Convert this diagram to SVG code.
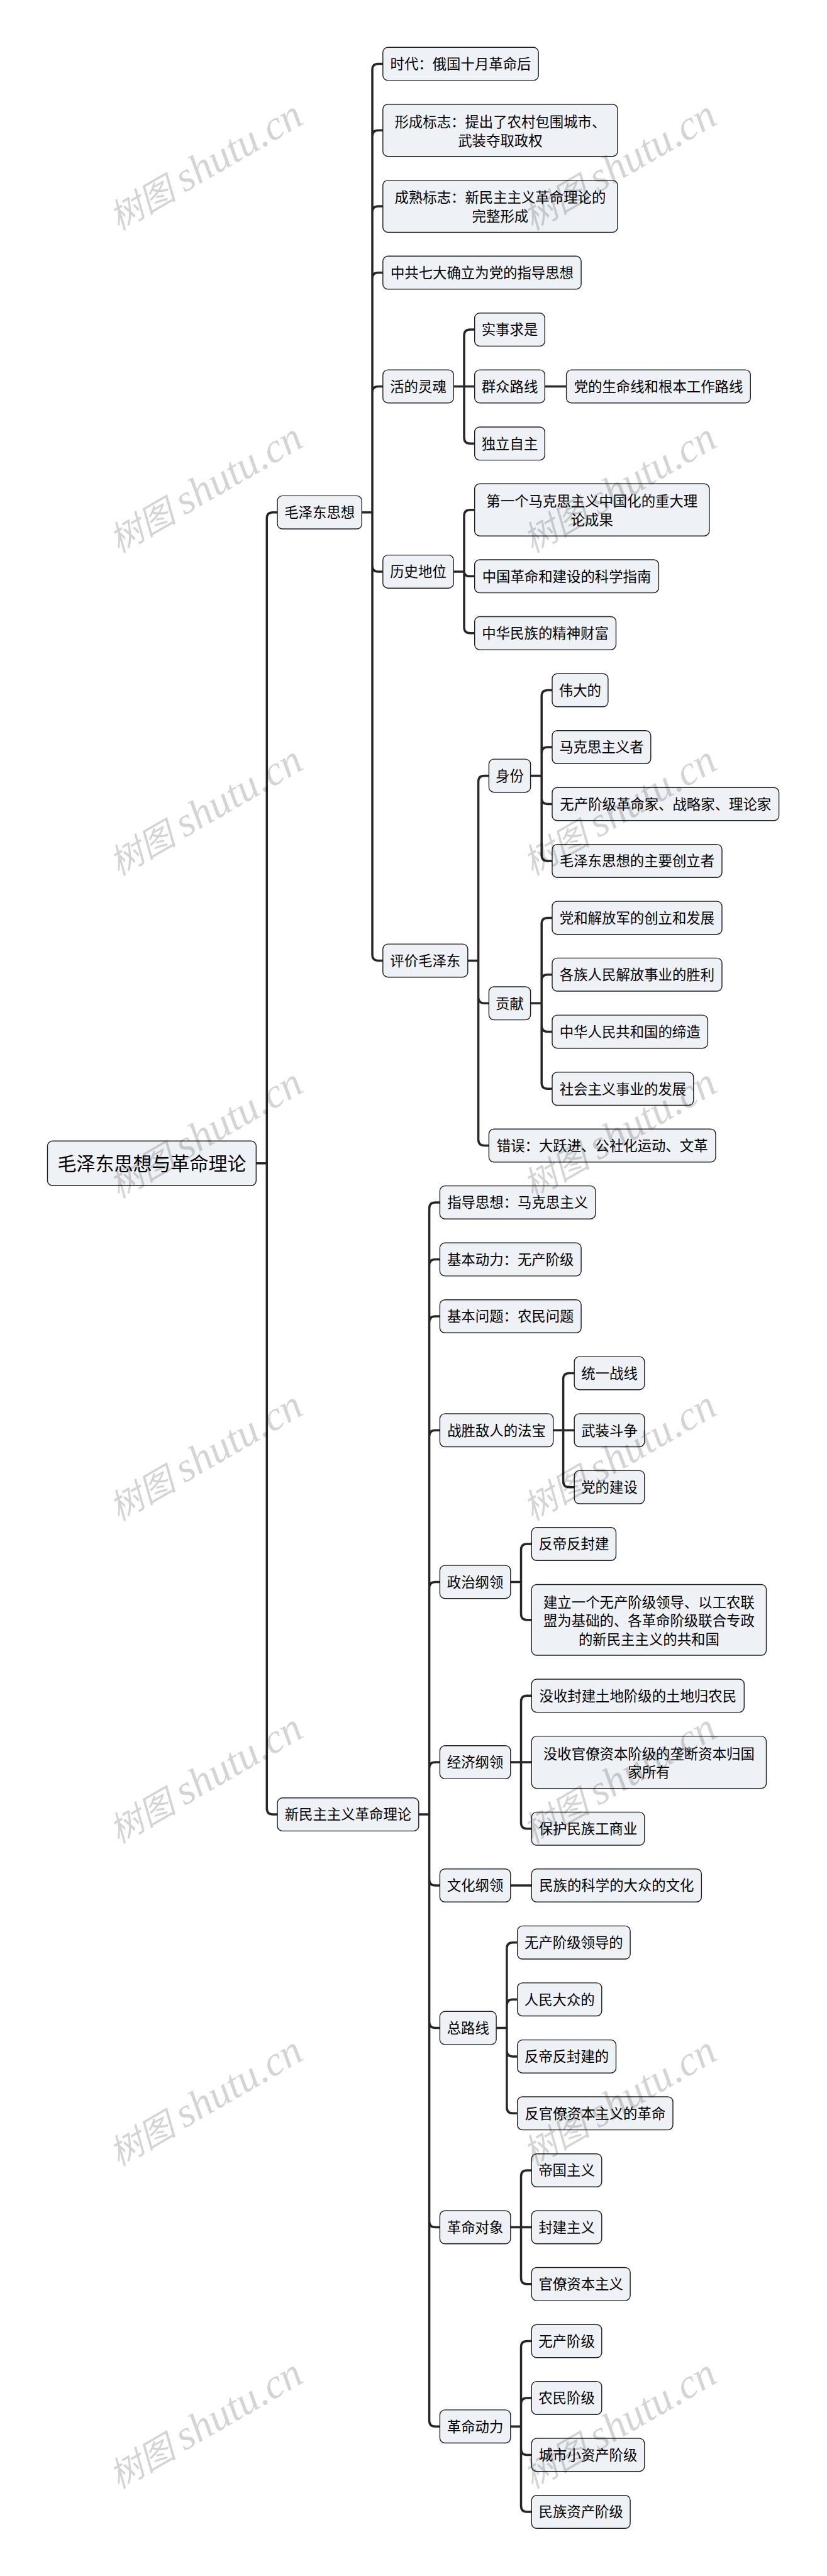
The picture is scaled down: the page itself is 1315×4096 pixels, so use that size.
<svg xmlns="http://www.w3.org/2000/svg" width="1315" height="4096" viewBox="0 0 1315 4096">
<defs>
<style>
.bg{fill:#ffffff}
#connectors path{fill:none;stroke:#262626;stroke-width:3.5}
.node rect{fill:#eef1f5;stroke:#1f1f1f;stroke-width:1.4}
.node text{font-family:"Noto Sans CJK SC","Liberation Sans",sans-serif;font-size:22.4px;fill:#000;text-anchor:middle}
#root text{font-size:30px}
#watermarks text{font-family:"Liberation Serif","Noto Sans CJK SC",serif;font-style:italic;font-size:66px;fill:#000;fill-opacity:.17;text-anchor:middle}
#watermarks tspan{font-size:54px}
</style>
</defs>
<rect class="bg" x="0" y="0" width="1315" height="4096"/>
<g id="connectors">
<path d="M407.3 1849.7H424.3M424.3 1849.7V824.2Q424.3 814.7 433.8 814.7H441.1M424.3 1849.7V2875.6Q424.3 2885.1 433.8 2885.1H441.1"/>
<path d="M575.3 814.7H592M592 814.7V111.1Q592 101.6 601.5 101.6H608.8M592 814.7V216.7Q592 207.2 601.5 207.2H608.8M592 814.7V337.5Q592 328 601.5 328H608.8M592 814.7V443.1Q592 433.6 601.5 433.6H608.8M592 814.7V623.9Q592 614.4 601.5 614.4H608.8M592 814.7V899.4Q592 908.9 601.5 908.9H608.8M592 814.7V1517.9Q592 1527.4 601.5 1527.4H608.8"/>
<path d="M721.2 614.4H754.7M738 614.4V533.6Q738 524.1 747.5 524.1H754.7M738 614.4V695.8Q738 705.3 747.5 705.3H754.7"/>
<path d="M866.3 614.4H900.6"/>
<path d="M721.2 908.9H738M738 908.9V820.2Q738 810.7 747.5 810.7H754.7M738 908.9Q738 916.3 747.5 916.3H754.7M738 908.9V997.3Q738 1006.8 747.5 1006.8H754.7"/>
<path d="M743.8 1527.4H760.6M760.6 1527.4V1242.9Q760.6 1233.4 770.1 1233.4H777.4M760.6 1527.4V1585.8Q760.6 1595.3 770.1 1595.3H777.4M760.6 1527.4V1812Q760.6 1821.5 770.1 1821.5H777.4"/>
<path d="M843.6 1233.4H861.2M861.2 1233.4V1107Q861.2 1097.5 870.7 1097.5H878M861.2 1233.4V1197.5Q861.2 1188 870.7 1188H878M861.2 1233.4V1269Q861.2 1278.5 870.7 1278.5H878M861.2 1233.4V1359.4Q861.2 1368.9 870.7 1368.9H878"/>
<path d="M843.6 1595.3H861.2M861.2 1595.3V1468.9Q861.2 1459.4 870.7 1459.4H878M861.2 1595.3V1559.2Q861.2 1549.7 870.7 1549.7H878M861.2 1595.3V1630.9Q861.2 1640.4 870.7 1640.4H878M861.2 1595.3V1721.7Q861.2 1731.2 870.7 1731.2H878"/>
<path d="M665.8 2885.1H682.6M682.6 2885.1V1921.4Q682.6 1911.9 692.1 1911.9H699.4M682.6 2885.1V2012.1Q682.6 2002.6 692.1 2002.6H699.4M682.6 2885.1V2102.5Q682.6 2093 692.1 2093H699.4M682.6 2885.1V2283.7Q682.6 2274.2 692.1 2274.2H699.4M682.6 2885.1V2524.9Q682.6 2515.4 692.1 2515.4H699.4M682.6 2885.1V2811.6Q682.6 2802.1 692.1 2802.1H699.4M682.6 2885.1V2988.5Q682.6 2998 692.1 2998H699.4M682.6 2885.1V3215.1Q682.6 3224.6 692.1 3224.6H699.4M682.6 2885.1V3532Q682.6 3541.5 692.1 3541.5H699.4M682.6 2885.1V3848.7Q682.6 3858.2 692.1 3858.2H699.4"/>
<path d="M879.7 2274.2H913.2M895.6 2274.2V2192.9Q895.6 2183.4 905.1 2183.4H913.2M895.6 2274.2V2355.2Q895.6 2364.7 905.1 2364.7H913.2"/>
<path d="M811.8 2515.4H828.5M828.5 2515.4V2464.5Q828.5 2455 838 2455H845.3M828.5 2515.4V2566.2Q828.5 2575.7 838 2575.7H845.3"/>
<path d="M811.8 2802.1H845.3M828.5 2802.1V2705.8Q828.5 2696.3 838 2696.3H845.3M828.5 2802.1V2898.2Q828.5 2907.7 838 2907.7H845.3"/>
<path d="M811.8 2998H845.3"/>
<path d="M789.1 3224.6H805.9M805.9 3224.6V3098.2Q805.9 3088.7 815.4 3088.7H822.7M805.9 3224.6V3188.7Q805.9 3179.2 815.4 3179.2H822.7M805.9 3224.6V3260.4Q805.9 3269.9 815.4 3269.9H822.7M805.9 3224.6V3350.8Q805.9 3360.3 815.4 3360.3H822.7"/>
<path d="M811.8 3541.5H845.3M828.5 3541.5V3460.5Q828.5 3451 838 3451H845.3M828.5 3541.5V3622.3Q828.5 3631.8 838 3631.8H845.3"/>
<path d="M811.8 3858.2H828.5M828.5 3858.2V3732Q828.5 3722.5 838 3722.5H845.3M828.5 3858.2V3822.4Q828.5 3812.9 838 3812.9H845.3M828.5 3858.2V3893.9Q828.5 3903.4 838 3903.4H845.3M828.5 3858.2V3984.5Q828.5 3994 838 3994H845.3"/>
</g>
<g id="root" class="node"><rect x="75.5" y="1814.3" width="331.8" height="70.9" rx="8"/><text x="241.4" y="1860.9">毛泽东思想与革命理论</text></g>
<g id="n1" class="node"><rect x="441.1" y="788.4" width="134.2" height="52.6" rx="8"/><text x="508.2" y="823">毛泽东思想</text></g>
<g id="n1-1" class="node"><rect x="608.8" y="75.3" width="247.4" height="52.6" rx="8"/><text x="732.5" y="109.9">时代：俄国十月革命后</text></g>
<g id="n1-2" class="node"><rect x="608.8" y="165.7" width="373.2" height="83" rx="8"/><text x="795.4" y="202.1">形成标志：提出了农村包围城市、</text><text x="795.4" y="231.9">武装夺取政权</text></g>
<g id="n1-3" class="node"><rect x="608.8" y="286.6" width="373.2" height="82.8" rx="8"/><text x="795.4" y="322.2">成熟标志：新民主主义革命理论的</text><text x="795.4" y="352">完整形成</text></g>
<g id="n1-4" class="node"><rect x="608.8" y="407.3" width="315.3" height="52.6" rx="8"/><text x="766.45" y="441.9">中共七大确立为党的指导思想</text></g>
<g id="n1-5" class="node"><rect x="608.8" y="588.1" width="112.4" height="52.6" rx="8"/><text x="665" y="622.7">活的灵魂</text></g>
<g id="n1-5-1" class="node"><rect x="754.7" y="497.8" width="111.6" height="52.6" rx="8"/><text x="810.5" y="532.4">实事求是</text></g>
<g id="n1-5-2" class="node"><rect x="754.7" y="588.1" width="111.6" height="52.6" rx="8"/><text x="810.5" y="622.7">群众路线</text></g>
<g id="n1-5-2-1" class="node"><rect x="900.6" y="588.1" width="292.7" height="52.6" rx="8"/><text x="1047" y="622.7">党的生命线和根本工作路线</text></g>
<g id="n1-5-3" class="node"><rect x="754.7" y="679" width="111.6" height="52.6" rx="8"/><text x="810.5" y="713.6">独立自主</text></g>
<g id="n1-6" class="node"><rect x="608.8" y="882.6" width="112.4" height="52.6" rx="8"/><text x="665" y="917.2">历史地位</text></g>
<g id="n1-6-1" class="node"><rect x="754.7" y="769.2" width="373.2" height="83" rx="8"/><text x="941.3" y="805.1">第一个马克思主义中国化的重大理</text><text x="941.3" y="835">论成果</text></g>
<g id="n1-6-2" class="node"><rect x="754.7" y="890" width="292.7" height="52.6" rx="8"/><text x="901" y="924.6">中国革命和建设的科学指南</text></g>
<g id="n1-6-3" class="node"><rect x="754.7" y="980.5" width="224.8" height="52.6" rx="8"/><text x="867.1" y="1015.1">中华民族的精神财富</text></g>
<g id="n1-7" class="node"><rect x="608.8" y="1501.1" width="135" height="52.6" rx="8"/><text x="676.3" y="1535.7">评价毛泽东</text></g>
<g id="n1-7-1" class="node"><rect x="777.4" y="1207.1" width="66.2" height="52.6" rx="8"/><text x="810.5" y="1241.7">身份</text></g>
<g id="n1-7-1-1" class="node"><rect x="878" y="1071.2" width="88.9" height="52.6" rx="8"/><text x="922.4" y="1105.8">伟大的</text></g>
<g id="n1-7-1-2" class="node"><rect x="878" y="1161.7" width="156.8" height="52.6" rx="8"/><text x="956.4" y="1196.3">马克思主义者</text></g>
<g id="n1-7-1-3" class="node"><rect x="878" y="1252.2" width="360.6" height="52.6" rx="8"/><text x="1058.3" y="1286.8">无产阶级革命家、战略家、理论家</text></g>
<g id="n1-7-1-4" class="node"><rect x="878" y="1342.6" width="270" height="52.6" rx="8"/><text x="1013" y="1377.2">毛泽东思想的主要创立者</text></g>
<g id="n1-7-2" class="node"><rect x="777.4" y="1569" width="66.2" height="52.6" rx="8"/><text x="810.5" y="1603.6">贡献</text></g>
<g id="n1-7-2-1" class="node"><rect x="878" y="1433.1" width="270" height="52.6" rx="8"/><text x="1013" y="1467.7">党和解放军的创立和发展</text></g>
<g id="n1-7-2-2" class="node"><rect x="878" y="1523.4" width="270" height="52.6" rx="8"/><text x="1013" y="1558">各族人民解放事业的胜利</text></g>
<g id="n1-7-2-3" class="node"><rect x="878" y="1614.1" width="247.4" height="52.6" rx="8"/><text x="1001.7" y="1648.7">中华人民共和国的缔造</text></g>
<g id="n1-7-2-4" class="node"><rect x="878" y="1704.9" width="224.8" height="52.6" rx="8"/><text x="990.4" y="1739.5">社会主义事业的发展</text></g>
<g id="n1-7-3" class="node"><rect x="777.4" y="1795.2" width="360.6" height="52.6" rx="8"/><text x="957.7" y="1829.8">错误：大跃进、公社化运动、文革</text></g>
<g id="n2" class="node"><rect x="441.1" y="2858.8" width="224.7" height="52.6" rx="8"/><text x="553.45" y="2893.4">新民主主义革命理论</text></g>
<g id="n2-1" class="node"><rect x="699.4" y="1885.6" width="247.4" height="52.6" rx="8"/><text x="823.1" y="1920.2">指导思想：马克思主义</text></g>
<g id="n2-2" class="node"><rect x="699.4" y="1976.3" width="224.7" height="52.6" rx="8"/><text x="811.75" y="2010.9">基本动力：无产阶级</text></g>
<g id="n2-3" class="node"><rect x="699.4" y="2066.7" width="224.7" height="52.6" rx="8"/><text x="811.75" y="2101.3">基本问题：农民问题</text></g>
<g id="n2-4" class="node"><rect x="699.4" y="2247.9" width="180.3" height="52.6" rx="8"/><text x="789.55" y="2282.5">战胜敌人的法宝</text></g>
<g id="n2-4-1" class="node"><rect x="913.2" y="2157.1" width="111.6" height="52.6" rx="8"/><text x="969" y="2191.7">统一战线</text></g>
<g id="n2-4-2" class="node"><rect x="913.2" y="2247.9" width="111.6" height="52.6" rx="8"/><text x="969" y="2282.5">武装斗争</text></g>
<g id="n2-4-3" class="node"><rect x="913.2" y="2338.4" width="111.6" height="52.6" rx="8"/><text x="969" y="2373">党的建设</text></g>
<g id="n2-5" class="node"><rect x="699.4" y="2489.1" width="112.4" height="52.6" rx="8"/><text x="755.6" y="2523.7">政治纲领</text></g>
<g id="n2-5-1" class="node"><rect x="845.3" y="2428.7" width="134.2" height="52.6" rx="8"/><text x="912.4" y="2463.3">反帝反封建</text></g>
<g id="n2-5-2" class="node"><rect x="845.3" y="2519.5" width="373.2" height="112.5" rx="8"/><text x="1031.9" y="2555.5">建立一个无产阶级领导、以工农联</text><text x="1031.9" y="2585.3">盟为基础的、各革命阶级联合专政</text><text x="1031.9" y="2615.1">的新民主主义的共和国</text></g>
<g id="n2-6" class="node"><rect x="699.4" y="2775.8" width="112.4" height="52.6" rx="8"/><text x="755.6" y="2810.4">经济纲领</text></g>
<g id="n2-6-1" class="node"><rect x="845.3" y="2670" width="338" height="52.6" rx="8"/><text x="1014.3" y="2704.6">没收封建土地阶级的土地归农民</text></g>
<g id="n2-6-2" class="node"><rect x="845.3" y="2760.6" width="373.2" height="83" rx="8"/><text x="1031.9" y="2796.5">没收官僚资本阶级的垄断资本归国</text><text x="1031.9" y="2826.3">家所有</text></g>
<g id="n2-6-3" class="node"><rect x="845.3" y="2881.4" width="179.5" height="52.6" rx="8"/><text x="935" y="2916">保护民族工商业</text></g>
<g id="n2-7" class="node"><rect x="699.4" y="2971.7" width="112.4" height="52.6" rx="8"/><text x="755.6" y="3006.3">文化纲领</text></g>
<g id="n2-7-1" class="node"><rect x="845.3" y="2971.7" width="270.1" height="52.6" rx="8"/><text x="980.35" y="3006.3">民族的科学的大众的文化</text></g>
<g id="n2-8" class="node"><rect x="699.4" y="3198.3" width="89.7" height="52.6" rx="8"/><text x="744.25" y="3232.9">总路线</text></g>
<g id="n2-8-1" class="node"><rect x="822.7" y="3062.4" width="179.4" height="52.6" rx="8"/><text x="912.4" y="3097">无产阶级领导的</text></g>
<g id="n2-8-2" class="node"><rect x="822.7" y="3152.9" width="134.1" height="52.6" rx="8"/><text x="889.75" y="3187.5">人民大众的</text></g>
<g id="n2-8-3" class="node"><rect x="822.7" y="3243.6" width="156.8" height="52.6" rx="8"/><text x="901.1" y="3278.2">反帝反封建的</text></g>
<g id="n2-8-4" class="node"><rect x="822.7" y="3334" width="247.3" height="52.6" rx="8"/><text x="946.35" y="3368.6">反官僚资本主义的革命</text></g>
<g id="n2-9" class="node"><rect x="699.4" y="3515.2" width="112.4" height="52.6" rx="8"/><text x="755.6" y="3549.8">革命对象</text></g>
<g id="n2-9-1" class="node"><rect x="845.3" y="3424.7" width="111.5" height="52.6" rx="8"/><text x="901" y="3459.3">帝国主义</text></g>
<g id="n2-9-2" class="node"><rect x="845.3" y="3515.2" width="111.5" height="52.6" rx="8"/><text x="901" y="3549.8">封建主义</text></g>
<g id="n2-9-3" class="node"><rect x="845.3" y="3605.5" width="156.8" height="52.6" rx="8"/><text x="923.7" y="3640.1">官僚资本主义</text></g>
<g id="n2-10" class="node"><rect x="699.4" y="3831.9" width="112.4" height="52.6" rx="8"/><text x="755.6" y="3866.5">革命动力</text></g>
<g id="n2-10-1" class="node"><rect x="845.3" y="3696.2" width="111.5" height="52.6" rx="8"/><text x="901" y="3730.8">无产阶级</text></g>
<g id="n2-10-2" class="node"><rect x="845.3" y="3786.6" width="111.5" height="52.6" rx="8"/><text x="901" y="3821.2">农民阶级</text></g>
<g id="n2-10-3" class="node"><rect x="845.3" y="3877.1" width="179.5" height="52.6" rx="8"/><text x="935" y="3911.7">城市小资产阶级</text></g>
<g id="n2-10-4" class="node"><rect x="845.3" y="3967.7" width="156.8" height="52.6" rx="8"/><text x="923.7" y="4002.3">民族资产阶级</text></g>
<g id="watermarks">
<text transform="translate(327 264) rotate(-30)" y="20"><tspan>树图 </tspan>shutu.cn</text>
<text transform="translate(985 264) rotate(-30)" y="20"><tspan>树图 </tspan>shutu.cn</text>
<text transform="translate(327 777) rotate(-30)" y="20"><tspan>树图 </tspan>shutu.cn</text>
<text transform="translate(985 777) rotate(-30)" y="20"><tspan>树图 </tspan>shutu.cn</text>
<text transform="translate(327 1290) rotate(-30)" y="20"><tspan>树图 </tspan>shutu.cn</text>
<text transform="translate(985 1290) rotate(-30)" y="20"><tspan>树图 </tspan>shutu.cn</text>
<text transform="translate(327 1803) rotate(-30)" y="20"><tspan>树图 </tspan>shutu.cn</text>
<text transform="translate(985 1803) rotate(-30)" y="20"><tspan>树图 </tspan>shutu.cn</text>
<text transform="translate(327 2316) rotate(-30)" y="20"><tspan>树图 </tspan>shutu.cn</text>
<text transform="translate(985 2316) rotate(-30)" y="20"><tspan>树图 </tspan>shutu.cn</text>
<text transform="translate(327 2829) rotate(-30)" y="20"><tspan>树图 </tspan>shutu.cn</text>
<text transform="translate(985 2829) rotate(-30)" y="20"><tspan>树图 </tspan>shutu.cn</text>
<text transform="translate(327 3342) rotate(-30)" y="20"><tspan>树图 </tspan>shutu.cn</text>
<text transform="translate(985 3342) rotate(-30)" y="20"><tspan>树图 </tspan>shutu.cn</text>
<text transform="translate(327 3855) rotate(-30)" y="20"><tspan>树图 </tspan>shutu.cn</text>
<text transform="translate(985 3855) rotate(-30)" y="20"><tspan>树图 </tspan>shutu.cn</text>
</g>
</svg>
